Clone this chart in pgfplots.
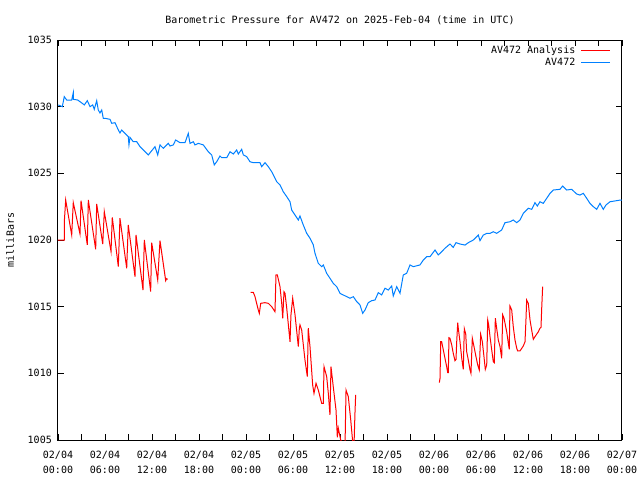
\documentclass[border=0pt]{standalone}
\usepackage{pgfplots}
\pgfplotsset{compat=1.18}
\usepackage{fontspec}
\setmainfont{DejaVu Sans Mono}
\definecolor{gred}{RGB}{255,0,0}
\definecolor{gblue}{RGB}{0,128,255}
\begin{document}
\begin{tikzpicture}
\path[use as bounding box] (-58pt,-40pt) rectangle (582pt,440pt);
\begin{axis}[
  at={(0pt,0pt)}, anchor=south west,
  scale only axis, width=564pt, height=400pt,
  xmin=0, xmax=72, ymin=1005, ymax=1035,
  xtick={0,6,...,72}, minor xtick={3,9,...,69},
  xticklabels={02/04\\00:00,02/04\\06:00,02/04\\12:00,02/04\\18:00,02/05\\00:00,02/05\\06:00,02/05\\12:00,02/05\\18:00,02/06\\00:00,02/06\\06:00,02/06\\12:00,02/06\\18:00,02/07\\00:00},
  ytick={1005,1010,...,1035},
  tick align=inside,
  major tick length=6pt, minor tick length=6pt,
  every tick/.style={black, line width=0.8pt},
  axis line style={line width=1pt},
  /pgf/number format/assume math mode=true,
  /pgf/number format/1000 sep={},
  tick label style={font=\fontsize{10}{15}\selectfont},
  xticklabel style={align=center, anchor=north, inner sep=0pt, yshift=-11pt},
  yticklabel style={anchor=east, inner sep=0pt, xshift=-6pt},
  title={Barometric Pressure for AV472 on 2025-Feb-04 (time in UTC)},
  title style={at={(axis description cs:0.5,1)}, anchor=center, yshift=14pt, font=\fontsize{10}{12}\selectfont},
  ylabel={milliBars},
  every axis y label/.style={at={(axis description cs:0,0.5)}, xshift=-48pt, rotate=90, anchor=center, font=\fontsize{10}{12}\selectfont},
  legend plot pos=right,
  legend cell align=right,
  legend image code/.code={\draw[#1] (0pt,0pt) -- (29pt,0pt);},
  legend style={draw=none, fill=none, at={(axis description cs:0.9805,0.988)}, anchor=north east, inner sep=0pt, font=\fontsize{10}{12}\selectfont, nodes={inner sep=1.5pt, text height=7pt, text depth=2pt}, column sep=4pt},
]
\addplot[gred, line width=1pt] table {
0.0 1020.0
0.80 1020.0
0.82 1021.5
0.98 1023.0
1.75 1020.38
1.95 1022.8
2.81 1020.45
2.94 1022.95
3.74 1019.63
3.87 1023.0
4.81 1019.3
4.94 1022.7
5.71 1019.7
5.91 1022.13
6.77 1019.13
6.93 1021.7
7.70 1018.0
7.91 1021.63
8.77 1017.88
8.97 1021.13
9.83 1017.25
9.96 1020.38
10.85 1016.25
11.02 1020.0
11.83 1016.13
11.96 1019.8
12.73 1017.0
13.02 1019.95
13.75 1016.95
13.87 1017.1
14.0 1017.05
};
\addlegendentry{AV472 Analysis}
\addplot[gred, line width=1pt, forget plot] table {
24.60 1016.08
24.93 1016.08
25.15 1015.75
25.57 1014.75
25.70 1014.5
25.88 1015.25
26.43 1015.3
26.85 1015.25
27.28 1015.0
27.70 1014.62
27.83 1017.38
28.0 1017.38
28.34 1016.5
28.56 1015.25
28.69 1014.13
28.85 1016.12
28.98 1016.0
29.20 1014.88
29.62 1012.37
29.74 1014.38
29.96 1015.63
30.26 1014.38
30.68 1012.0
30.81 1013.38
30.89 1013.63
31.11 1013.25
31.53 1011.0
31.83 1009.75
31.95 1013.38
32.17 1012.0
32.51 1009.13
32.68 1008.5
32.94 1009.25
33.23 1008.75
33.66 1007.75
33.87 1007.75
33.96 1010.5
34.30 1009.75
34.51 1008.5
34.72 1006.88
34.85 1010.5
35.14 1009.0
35.49 1007.25
35.66 1005.2
35.78 1005.9
36.09 1005.0
36.42 1004.6
36.64 1004.5
36.77 1008.75
37.06 1008.25
37.37 1006.5
37.63 1004.8
37.79 1004.6
37.91 1007.0
38.0 1008.38
};
\addplot[gred, line width=1pt, forget plot] table {
48.68 1009.3
48.77 1009.63
48.86 1012.37
48.98 1012.37
49.19 1011.75
49.40 1011.13
49.62 1010.5
49.75 1010.05
49.83 1010.05
49.91 1012.67
50.04 1012.63
50.26 1012.13
50.46 1011.5
50.68 1010.95
50.81 1011.05
50.90 1012.37
51.03 1013.8
51.10 1013.38
51.32 1012.37
51.54 1011.13
51.74 1010.3
51.87 1013.35
52.05 1012.95
52.17 1011.62
52.38 1011.0
52.60 1010.25
52.72 1010.0
52.89 1012.63
53.11 1012.0
53.36 1011.25
53.58 1010.63
53.78 1010.25
53.87 1011.62
53.96 1012.93
54.17 1012.37
54.38 1011.25
54.55 1010.3
54.73 1010.63
54.86 1014.0
54.98 1013.63
55.15 1012.75
55.37 1011.75
55.57 1010.87
55.70 1010.8
55.83 1014.13
56.0 1013.38
56.21 1012.5
56.43 1012.0
56.64 1011.13
56.77 1014.38
56.94 1014.13
57.28 1013.12
57.49 1012.25
57.61 1011.8
57.70 1015.05
57.92 1014.75
58.12 1013.5
58.34 1012.5
58.56 1011.88
58.68 1011.68
58.98 1011.68
59.40 1012.05
59.62 1012.37
59.74 1014.0
59.83 1015.5
60.04 1015.25
60.26 1014.0
60.47 1013.25
60.68 1012.55
60.89 1012.75
61.32 1013.12
61.53 1013.38
61.66 1013.45
61.75 1014.88
61.87 1016.5
};
\addplot[gblue, line width=1pt] table {
0.04 1030.13
0.55 1030.0
0.80 1030.75
1.11 1030.5
1.75 1030.5
1.95 1031.05
1.96 1030.55
2.51 1030.5
3.03 1030.28
3.36 1030.13
3.74 1030.45
4.09 1030.0
4.43 1030.13
4.63 1029.8
4.94 1030.45
5.14 1029.75
5.36 1029.53
5.58 1029.75
5.78 1029.13
6.00 1029.13
6.64 1029.05
6.86 1028.75
7.28 1028.8
7.70 1028.25
7.91 1028.03
8.13 1028.25
8.55 1028.0
8.97 1027.75
9.06 1027.13
9.19 1027.7
9.61 1027.37
10.05 1027.37
10.47 1027.0
10.89 1026.75
11.53 1026.38
12.38 1027.0
12.73 1026.38
13.02 1027.13
13.44 1026.88
14.08 1027.25
14.30 1027.05
14.72 1027.13
15.02 1027.5
15.57 1027.3
16.21 1027.3
16.34 1027.5
16.63 1028.0
16.85 1027.25
17.27 1027.37
17.49 1027.13
17.91 1027.25
18.55 1027.13
19.19 1026.62
19.62 1026.38
19.95 1025.63
20.26 1025.87
20.68 1026.3
20.90 1026.17
21.54 1026.17
21.96 1026.62
22.38 1026.45
22.81 1026.75
23.02 1026.45
23.45 1026.8
23.66 1026.38
24.09 1026.25
24.51 1025.87
24.93 1025.8
25.79 1025.8
26.0 1025.5
26.43 1025.8
26.85 1025.5
27.28 1025.12
27.92 1024.37
28.34 1024.13
28.76 1023.62
29.20 1023.25
29.62 1022.87
29.83 1022.25
30.26 1021.87
30.68 1021.5
30.89 1021.8
31.31 1021.13
31.75 1020.5
32.17 1020.13
32.59 1019.63
32.81 1019.0
33.23 1018.25
33.66 1018.0
33.87 1018.13
34.30 1017.5
34.72 1017.13
35.14 1016.75
35.58 1016.5
36.0 1016.0
36.86 1015.75
37.28 1015.63
37.70 1015.75
38.13 1015.38
38.55 1015.13
38.90 1014.5
39.19 1014.75
39.61 1015.3
40.05 1015.45
40.47 1015.5
40.89 1016.05
41.32 1015.88
41.74 1016.38
42.17 1016.25
42.60 1016.55
42.80 1015.8
43.24 1016.5
43.66 1016.0
44.08 1017.38
44.51 1017.5
44.94 1018.13
45.36 1018.0
46.21 1018.13
46.64 1018.5
47.07 1018.75
47.49 1018.75
48.13 1019.25
48.55 1018.88
48.98 1019.12
49.40 1019.38
50.04 1019.7
50.46 1019.45
50.81 1019.8
51.32 1019.7
51.96 1019.62
52.38 1019.8
53.02 1020.0
53.66 1020.37
53.87 1019.95
54.29 1020.37
54.73 1020.5
55.15 1020.5
55.57 1020.62
56.0 1020.5
56.64 1020.75
57.06 1021.3
57.70 1021.37
58.12 1021.5
58.56 1021.3
58.98 1021.5
59.40 1022.0
60.04 1022.38
60.47 1022.3
60.89 1022.8
61.19 1022.55
61.53 1022.87
61.95 1022.75
62.39 1023.13
62.81 1023.5
63.23 1023.75
64.08 1023.8
64.43 1024.05
64.94 1023.75
65.58 1023.8
66.21 1023.45
66.64 1023.37
67.06 1023.5
67.49 1023.13
67.91 1022.75
68.34 1022.5
68.77 1022.3
69.19 1022.75
69.61 1022.3
69.96 1022.63
70.47 1022.87
71.32 1022.95
71.83 1023.0
72.0 1023.0
};
\addlegendentry{AV472}
\end{axis}
\end{tikzpicture}
\end{document}
